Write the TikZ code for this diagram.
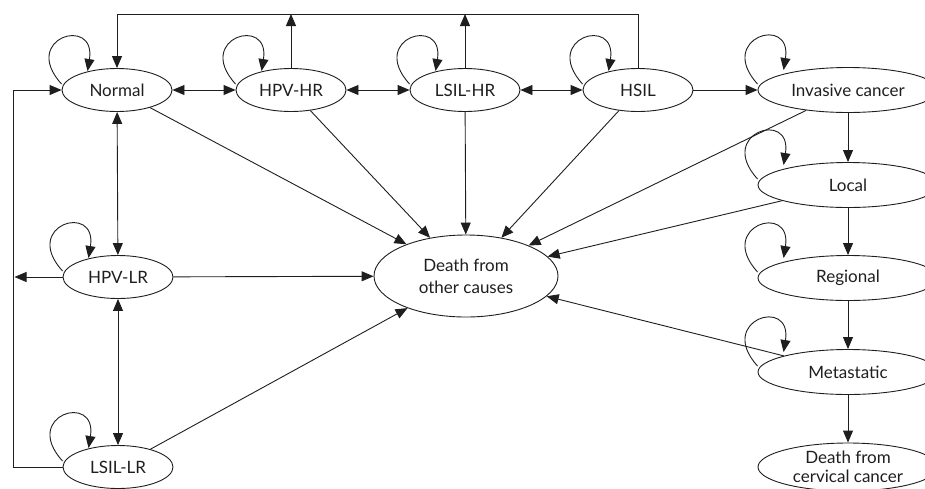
\documentclass[tikz,border=0pt]{standalone}
\usepackage{fontspec}
\setmainfont{Lato}
\usetikzlibrary{arrows.meta,shapes.geometric}
\begin{document}
\begin{tikzpicture}[x=1pt,y=-1pt,
  line width=0.9pt, draw={rgb,255:red,30;green,30;blue,30},
  st/.style={draw, ellipse, inner sep=0pt, minimum width=110pt, minimum height=43pt, font=\fontsize{17}{22}\selectfont, text={rgb,255:red,30;green,30;blue,30}},
  big/.style={st, minimum width=180pt, minimum height=45pt},
  arr/.style={-{Triangle[length=12pt,width=10pt]}},
  darr/.style={{Triangle[length=12pt,width=10pt]}-{Triangle[length=12pt,width=10pt]}},
]
\useasboundingbox (0,0) rectangle (925,488);

\node[st] (normal) at (117,90) {Normal};
\node[st] (hpvhr) at (291,90) {HPV-HR};
\node[st] (lsilhr) at (465,90) {LSIL-HR};
\node[st] (hsil) at (638,90) {HSIL};
\node[big] (inv) at (848,90) {Invasive cancer};
\node[big] (local) at (848,185) {Local};
\node[big] (reg) at (848,278) {Regional};
\node[big] (meta) at (848,372) {Metastatic};
\node[big, minimum height=48pt, align=center, font=\fontsize{17}{19.5}\selectfont] (dcc) at (848,467) {Death from\\cervical cancer};
\node[st] (hpvlr) at (118,277) {HPV-LR};
\node[st] (lsillr) at (118,467) {LSIL-LR};
\node[st, minimum width=184pt, minimum height=82pt, align=center] (doc) at (466,276) {Death from\\other causes};

% top return line
\coordinate (t1) at (117,14);
\coordinate (t2) at (291,14);
\coordinate (t3) at (465,14);
\coordinate (t4) at (638,14);
\draw[arr] (hsil.north) -- (t4) -- (t1) -- (normal.north);
\draw[arr] (hpvhr.north) -- (t2);
\draw[arr] (lsilhr.north) -- (t3);

% left return line
\coordinate (lbot) at (13,467);
\coordinate (ltop) at (13,90);
\coordinate (hl) at (14.5,277);
\draw[arr] (lsillr.west) -- (lbot) -- (ltop) -- (normal.west);
\draw[arr] (hpvlr.west) -- (hl);

% horizontal chain
\draw[darr] (normal) -- (hpvhr);
\draw[darr] (hpvhr) -- (lsilhr);
\draw[darr] (lsilhr) -- (hsil);
\draw[arr] (hsil) -- (inv);

% vertical left
\draw[darr] (normal) -- (hpvlr);
\draw[darr] (hpvlr) -- (lsillr);

% right column
\draw[arr] (inv) -- (local);
\draw[arr] (local) -- (reg);
\draw[arr] (reg) -- (meta);
\draw[arr] (meta) -- (dcc);

% to death from other causes
\foreach \n in {normal,hpvhr,lsilhr,hsil,inv,local,meta,hpvlr,lsillr}
  \draw[arr] (\n) -- (doc);

% self loops
\foreach \n in {normal,hpvhr,lsilhr,hsil,hpvlr,lsillr}
  \draw[arr] ([shift={(0,-6)}]\n.west) .. controls +(-42,-46) and +(9,-56) .. ([shift={(26,-19)}]\n.west);
\foreach \n in {inv,local,reg,meta}
  \draw[arr] ([shift={(0,-6)}]\n.west) .. controls +(-42,-46) and +(9,-56) .. ([shift={(26,-20)}]\n.west);
\end{tikzpicture}
\end{document}
